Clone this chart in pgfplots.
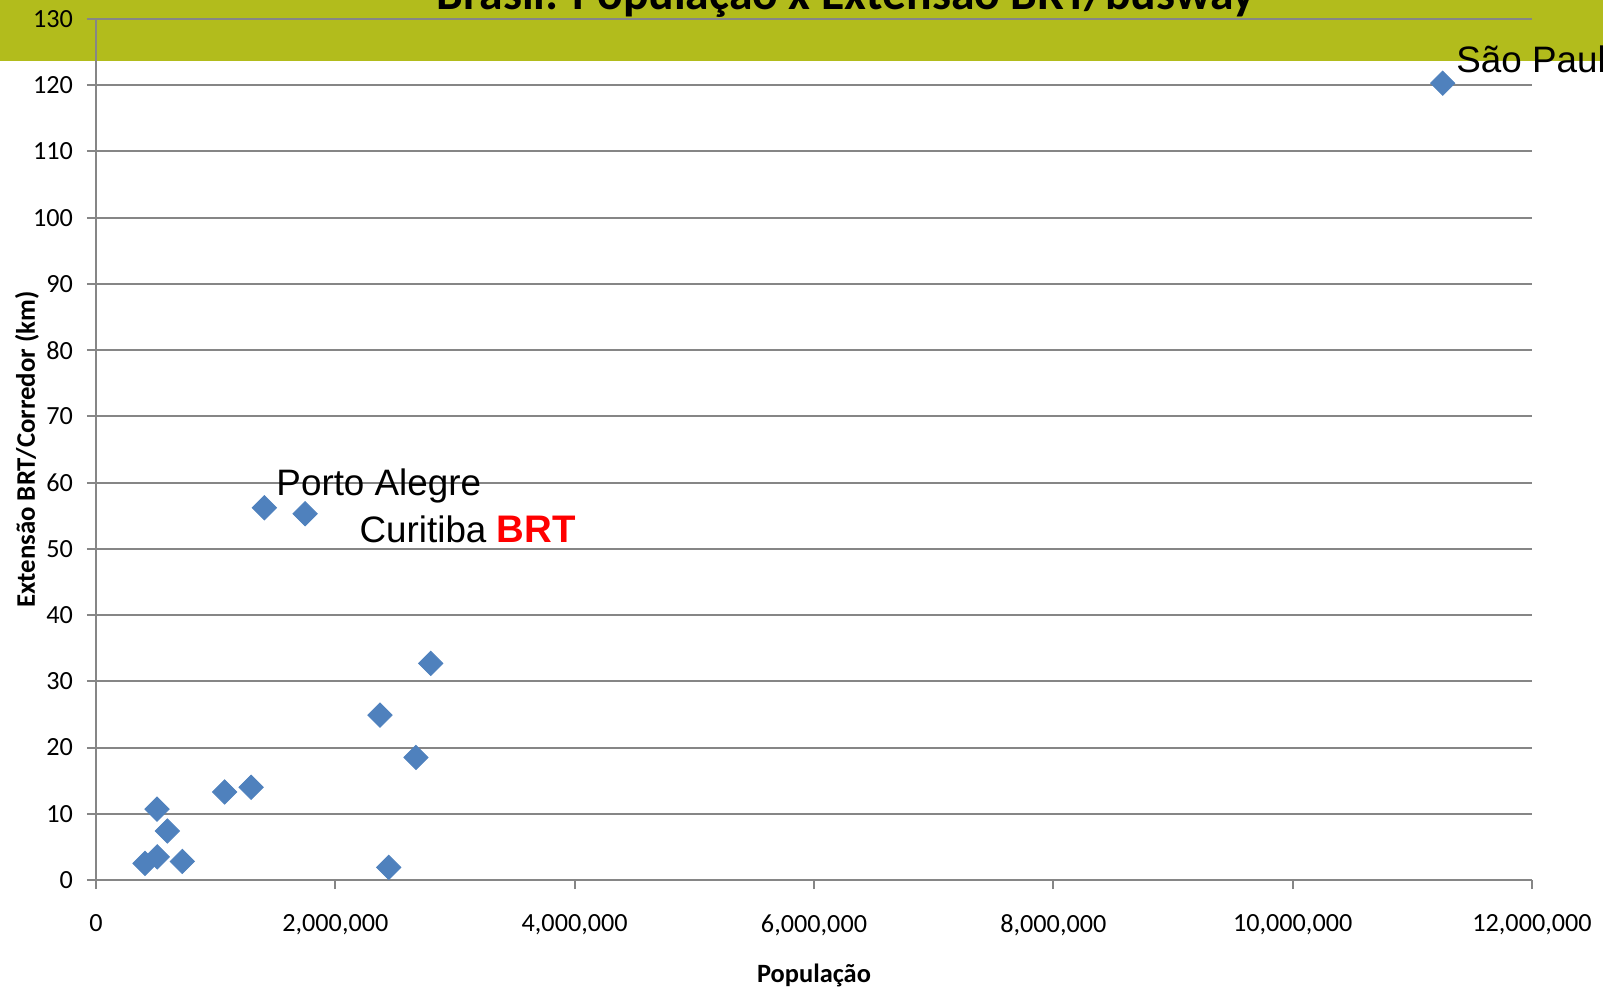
\documentclass[border=0pt]{standalone}
\usepackage{fontspec}
\setmainfont{Carlito}
\newfontfamily\arialf{Liberation Sans}
\usepackage{pgfplots}
\pgfplotsset{compat=1.18}
\definecolor{banner}{RGB}{178,188,28}
\definecolor{mk}{RGB}{79,129,189}
\definecolor{gridc}{RGB}{134,134,134}
\begin{document}
\begin{tikzpicture}
\useasboundingbox (-48pt,-56pt) rectangle (753.5pt,440pt);
\clip (-48pt,-56pt) rectangle (753.5pt,440pt);
\fill[banner] (-48pt,409.5pt) rectangle (753.5pt,440pt);
\node[anchor=base, font=\fontsize{23.8}{28}\selectfont\bfseries, inner sep=0] at (375pt,435pt) {Brasil: População x Extensão BRT/busway};
\begin{axis}[
  at={(0,0)}, anchor=south west,
  scale only axis, width=718pt, height=430.5pt,
  xmin=0, xmax=12000000, ymin=0, ymax=130,
  xtick={0,2000000,4000000,6000000,8000000,10000000,12000000},
  ytick={0,10,...,130},
  scaled x ticks=false,
  clip=false,
  axis lines*=left,
  ymajorgrids,
  grid style={gridc, line width=1pt},
  axis line style={gridc, line width=1pt},
  tick style={gridc, line width=1pt},
  tick align=outside, major tick length=4.5pt,
  /pgf/number format/assume math mode=true,
  ticklabel style={font=\fontsize{13.1}{15}\selectfont},
  xticklabel style={yshift=-9.3pt, /pgf/number format/fixed, /pgf/number format/precision=0, /pgf/number format/1000 sep={,}},
  yticklabel style={xshift=-3.5pt},
  xlabel={População},
  ylabel={Extensão BRT/Corredor (km)},
  xlabel style={at={(axis description cs:0.5,-0.1103)}, anchor=center, font=\fontsize{13.2}{15}\selectfont\bfseries},
  ylabel style={at={(axis description cs:-0.0481,0.5)}, anchor=center, font=\fontsize{13.4}{15}\selectfont\bfseries},
]
\addplot[only marks, mark=square*, mark size=4.3pt, mark options={rotate=45, fill=mk, draw=mk}] coordinates {
(409500,2.5)
(512000,3.5)
(510000,10.7)
(596000,7.4)
(721000,2.8)
(1075000,13.3)
(1296000,14.0)
(2373000,24.9)
(2674000,18.5)
(2797000,32.7)
(2446000,1.9)
(1407000,56.2)
(1747000,55.3)
(11254000,120.3)
};
\node[anchor=base west, inner sep=0, font=\arialf\fontsize{18.4}{21}\selectfont] at (axis cs:1505000,58.0) {Porto Alegre};
\node[anchor=base west, inner sep=0, font=\arialf\fontsize{18.4}{21}\selectfont] at (axis cs:2200000,50.9) {Curitiba {\color{red}\fontsize{19.2}{21}\selectfont\bfseries BRT}};
\node[anchor=base west, inner sep=0, font=\arialf\fontsize{18.4}{21}\selectfont] at (axis cs:11365000,121.85) {São Paulo};
\end{axis}
\end{tikzpicture}
\end{document}
